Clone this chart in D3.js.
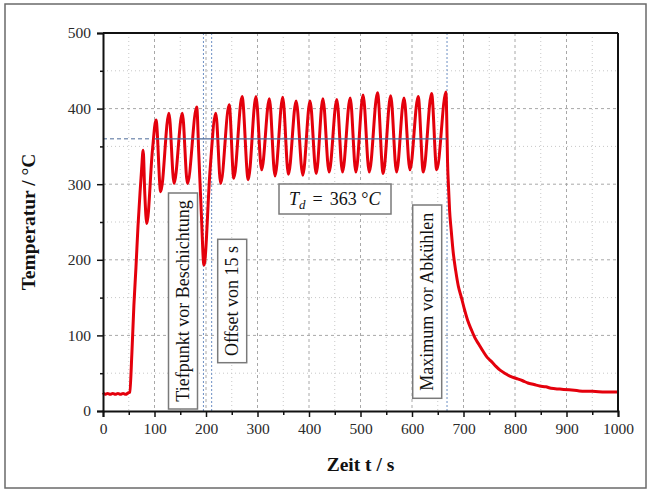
<!DOCTYPE html>
<html><head><meta charset="utf-8">
<script src="https://cdn.jsdelivr.net/npm/d3@7"></script>
<style>body{margin:0;background:#fff}svg{display:block}</style>
</head><body>
<svg id="c" width="651" height="490"></svg>
<script>
// ---- data ----
const timeS = [0,4,9,14,19,24,29,34,39,44,49,52,56,60,64,68,72,75,78,81,85,96,103,112,128,138,154,164,182,186,191,196,208,219,228.5,245,254,270,282,297,308,323,334,349,360,375,388,402,414,427,439,454,465,480,491,505,517,533,544,558.6,570,584.5,596,612,622,638,648,666,667.5,669,671,673,676,680,685,690,696,702,708,715,722,730,738,746,755,763,771,780,790,803,815,825,837,848,860,870,887,905,920,935,950,975,1000];
const tempC = [24,22,23,22,23,22,23,22,23,22,24,25,75,140,190,245,290,320,345,290,248,345,385,290,394,301,394,301,402,340,260,193,320,394,301,405,308,416,306,416,319,413,311,415,313,410,312,410,314,413,316,412,316,414,316,418,316,421,314,417,316,414,319,416,316,420,319,422,385,330,295,265,240,210,185,165,150,134,120,108,97,88,79,71,65,59,54,50,46,43,40,37,35,33,32,30,29,28,27,26,26,25,25,24,24];
const xTicks = [0,100,200,300,400,500,600,700,800,900,1000];
const xMinor = [50,150,250,350,450,550,650,750,850,950];
const yTicks = [0,100,200,300,400,500];
const yMinor = [50,150,250,350,450];
const tdLine = 360;          // horizontal reference line (°C)
const tdStart = 100;         // solid part starts (s)
const tdEnd = 668;           // solid part ends (s)
const markerTimes = [195, 211, 668];
const labels = ["Tiefpunkt vor Beschichtung", "Offset von 15 s", "Maximum vor Abkühlen"];
const tdLabel = {name:"T", sub:"d", value:"363 °", unit:"C"};
const xTitle = "Zeit t / s", yTitle = "Temperatur / °C";

// ---- layout ----
const svg = d3.select("#c");
const L = 103, R = 618, T = 33, B = 411;
const x = d3.scaleLinear().domain([0,1000]).range([L,R]);
const y = d3.scaleLinear().domain([0,500]).range([B,T]);
const serif = "'Liberation Serif','Times New Roman',serif";

// outer frame
svg.append("rect").attr("x",5).attr("y",4).attr("width",641).attr("height",484)
  .attr("fill","none").attr("stroke","#6a6a6a").attr("stroke-width",1.5);

// grid
const g = svg.append("g");
g.selectAll(".vm").data(xMinor).join("line").attr("x1",d=>x(d)).attr("x2",d=>x(d)).attr("y1",T).attr("y2",B)
  .attr("stroke","#c8c8c8").attr("stroke-width",1).attr("stroke-dasharray","1,3");
g.selectAll(".hm").data(yMinor).join("line").attr("y1",d=>y(d)).attr("y2",d=>y(d)).attr("x1",L).attr("x2",R)
  .attr("stroke","#c8c8c8").attr("stroke-width",1).attr("stroke-dasharray","1,3");
g.selectAll(".vM").data(xTicks.slice(1,-1)).join("line").attr("x1",d=>x(d)).attr("x2",d=>x(d)).attr("y1",T).attr("y2",B)
  .attr("stroke","#a8a8a8").attr("stroke-width",1).attr("stroke-dasharray","3,3");
g.selectAll(".hM").data(yTicks.slice(1,-1)).join("line").attr("y1",d=>y(d)).attr("y2",d=>y(d)).attr("x1",L).attr("x2",R)
  .attr("stroke","#a8a8a8").attr("stroke-width",1).attr("stroke-dasharray","3,3");

// blue markers
svg.selectAll(".mk").data(markerTimes).join("line").attr("x1",d=>x(d)).attr("x2",d=>x(d)).attr("y1",T).attr("y2",B)
  .attr("stroke","#6d8fc4").attr("stroke-width",1).attr("stroke-dasharray","2,2");
svg.append("line").attr("x1",x(0)).attr("x2",x(tdStart)).attr("y1",y(tdLine)).attr("y2",y(tdLine))
  .attr("stroke","#4c6a99").attr("stroke-width",1).attr("stroke-dasharray","4,3");

// curve
const pts = timeS.map((t,i)=>[t,tempC[i]]);
svg.append("path").datum(pts)
  .attr("d", d3.line().x(d=>x(d[0])).y(d=>y(d[1])).curve(d3.curveMonotoneX))
  .attr("fill","none").attr("stroke","#e4000c").attr("stroke-width",3).attr("stroke-linejoin","round");

svg.append("line").attr("x1",x(tdStart)).attr("x2",x(tdEnd)).attr("y1",y(tdLine)).attr("y2",y(tdLine))
  .attr("stroke","#4c6a99").attr("stroke-width",1.2);

// axes
svg.append("g").attr("transform",`translate(0,${B})`).call(d3.axisBottom(x).tickValues(xTicks).tickSize(6).tickPadding(6).tickFormat(d3.format("d")));
svg.append("g").attr("transform",`translate(0,${B})`).call(d3.axisBottom(x).tickValues(xMinor).tickSize(4).tickFormat("")).select(".domain").remove();
svg.append("g").attr("transform",`translate(${L},0)`).call(d3.axisLeft(y).tickValues(yTicks).tickSize(6).tickPadding(6).tickFormat(d3.format("d")));
svg.append("g").attr("transform",`translate(${L},0)`).call(d3.axisLeft(y).tickValues(yMinor).tickSize(3).tickFormat("")).select(".domain").remove();
svg.selectAll(".domain").attr("stroke","#111").attr("stroke-width",2);
svg.selectAll(".tick line").attr("stroke","#111").attr("stroke-width",1.5);
svg.selectAll(".tick text").attr("font-family",serif).attr("font-size",15.5).attr("fill","#2a2a2a");
// top/right frame
svg.append("line").attr("x1",L).attr("x2",R).attr("y1",T).attr("y2",T).attr("stroke","#111").attr("stroke-width",2);
svg.append("line").attr("x1",R).attr("x2",R).attr("y1",T).attr("y2",B).attr("stroke","#111").attr("stroke-width",2);

// axis titles
svg.append("text").attr("x",(L+R)/2).attr("y",471).attr("text-anchor","middle")
  .attr("font-family",serif).attr("font-weight","bold").attr("font-size",19.5).attr("fill","#111").text(xTitle);
svg.append("text").attr("transform",`translate(35,${(T+B)/2}) rotate(-90)`).attr("text-anchor","middle")
  .attr("font-family",serif).attr("font-weight","bold").attr("font-size",19.5).attr("fill","#111").text(yTitle);

// rotated annotation boxes
const boxes = [
  {text:labels[0], x0:168.5, x1:197.5, y0:193, y1:409},
  {text:labels[1], x0:217.7, x1:246.7, y0:239.3, y1:362.7},
  {text:labels[2], x0:412.7, x1:441.7, y0:205, y1:398.3}
];
boxes.forEach(b=>{
  svg.append("rect").attr("x",b.x0).attr("y",b.y0).attr("width",b.x1-b.x0).attr("height",b.y1-b.y0)
    .attr("fill","#fff").attr("stroke","#7a7a7a").attr("stroke-width",1.5);
  const cx=(b.x0+b.x1)/2, cy=(b.y0+b.y1)/2;
  svg.append("text").attr("transform",`translate(${cx+6},${cy}) rotate(-90)`).attr("text-anchor","middle")
    .attr("font-family",serif).attr("font-size",18).attr("fill","#111").text(b.text);
});

// T_d box
svg.append("rect").attr("x",279).attr("y",184).attr("width",112).attr("height",30)
  .attr("fill","#fff").attr("stroke","#7a7a7a").attr("stroke-width",1.5);
const tt = svg.append("text").attr("x",289).attr("y",205)
  .attr("font-family",serif).attr("font-size",18).attr("fill","#111");
tt.append("tspan").attr("font-style","italic").text(tdLabel.name);
tt.append("tspan").attr("font-style","italic").attr("font-size",13).attr("dy",4).text(tdLabel.sub);
tt.append("tspan").attr("dy",-4).attr("dx",7).text("=");
tt.append("tspan").attr("dx",7).text(tdLabel.value);
tt.append("tspan").attr("font-style","italic").text(tdLabel.unit);
</script>
</body></html>
